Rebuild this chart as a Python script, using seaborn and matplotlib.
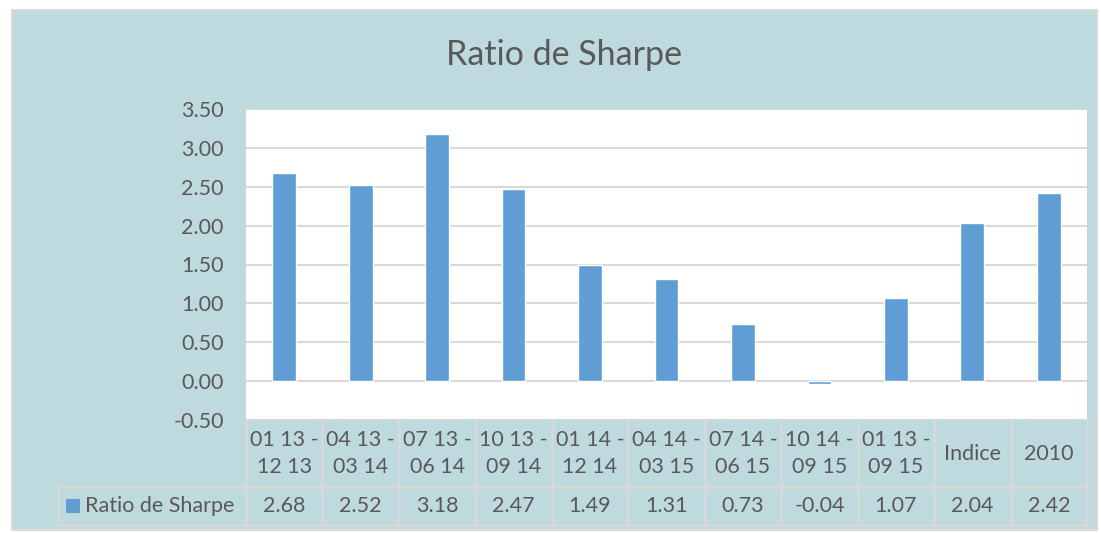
import matplotlib
matplotlib.use("Agg")
import matplotlib.pyplot as plt
import matplotlib.patches as mpatches
import seaborn as sns
import pandas as pd

categories = ["01 13 -\n12 13", "04 13 -\n03 14", "07 13 -\n06 14", "10 13 -\n09 14",
              "01 14 -\n12 14", "04 14 -\n03 15", "07 14 -\n06 15", "10 14 -\n09 15",
              "01 13 -\n09 15", "Indice", "2010"]
sharpe = [2.68, 2.52, 3.18, 2.47, 1.49, 1.31, 0.73, -0.04, 1.07, 2.04, 2.42]
series_name = "Ratio de Sharpe"
yticks = [-0.5, 0.0, 0.5, 1.0, 1.5, 2.0, 2.5, 3.0, 3.5]

bg = "#BEDADF"
grid = "#D9D9D9"
txt = "#595959"
bar_col = "#5F9DD4"
fs = 15.5

sns.set_theme(style="white")
plt.rcParams["font.family"] = ["Lato", "DejaVu Sans"]

W, H = 1101, 533
fig = plt.figure(figsize=(W / 100, H / 100), dpi=100)
fig.patch.set_facecolor("white")
fig.patches.append(mpatches.Rectangle((12 / W, 1 - 530 / H), 1085 / W, 520 / H,
                                      transform=fig.transFigure, facecolor=bg,
                                      edgecolor=grid, linewidth=1.5, zorder=-5))

left, right, top, bottom = 246, 1087, 109, 420
ax = fig.add_axes([left / W, 1 - bottom / H, (right - left) / W, (bottom - top) / H])
ax.set_facecolor("white")

df = pd.DataFrame({"cat": categories, "val": sharpe})
sns.barplot(data=df, x="cat", y="val", color=bar_col, saturation=1, width=0.31, ax=ax, zorder=3)

ax.set_ylim(-0.5, 3.5)
ax.set_xlim(-0.5, len(categories) - 0.5)
ax.set_yticks(yticks)
ax.set_yticklabels([f"{v:.2f}" for v in yticks], fontsize=fs, color=txt)
ax.tick_params(axis="y", length=0, pad=16)
ax.set_xticks([])
ax.set_xlabel("")
ax.set_ylabel("")
for v in yticks:
    ax.axhline(v, color=grid, linewidth=1.5, zorder=1)
for s in ax.spines.values():
    s.set_visible(False)

# data table below the plot
ph = bottom - top
r1 = -(487 - bottom) / ph
r2 = -(525 - bottom) / ph
xl = -(left - 58) / (right - left)
n = len(categories)
lk = dict(color=grid, linewidth=1.8, clip_on=False, zorder=4)
ax.plot([xl, 1], [r1, r1], transform=ax.transAxes, **lk)
ax.plot([xl, 1], [r2, r2], transform=ax.transAxes, **lk)
ax.plot([xl, xl], [r1, r2], transform=ax.transAxes, **lk)
for i in range(n + 1):
    ax.plot([i - 0.5, i - 0.5], [0, r2], transform=ax.get_xaxis_transform(), **lk)
for i, (c, v) in enumerate(zip(categories, sharpe)):
    ax.text(i, r1 / 2, c, ha="center", va="center", fontsize=fs, color=txt,
            linespacing=1.45, transform=ax.get_xaxis_transform(), clip_on=False)
    ax.text(i, (r1 + r2) / 2, f"{v:.2f}", ha="center", va="center", fontsize=fs,
            color=txt, transform=ax.get_xaxis_transform(), clip_on=False)

fig.patches.append(mpatches.Rectangle((66 / W, 1 - 513 / H), 14 / W, 14 / H,
                                      transform=fig.transFigure, facecolor=bar_col,
                                      edgecolor="none", zorder=5))
fig.text(85 / W, 1 - 506 / H, series_name, ha="left", va="center", fontsize=fs, color=txt)

fig.text(564 / W, 1 - 55 / H, series_name, ha="center", va="center", fontsize=24.5, color=txt)

fig.savefig("out.png", dpi=100, facecolor=fig.get_facecolor())
